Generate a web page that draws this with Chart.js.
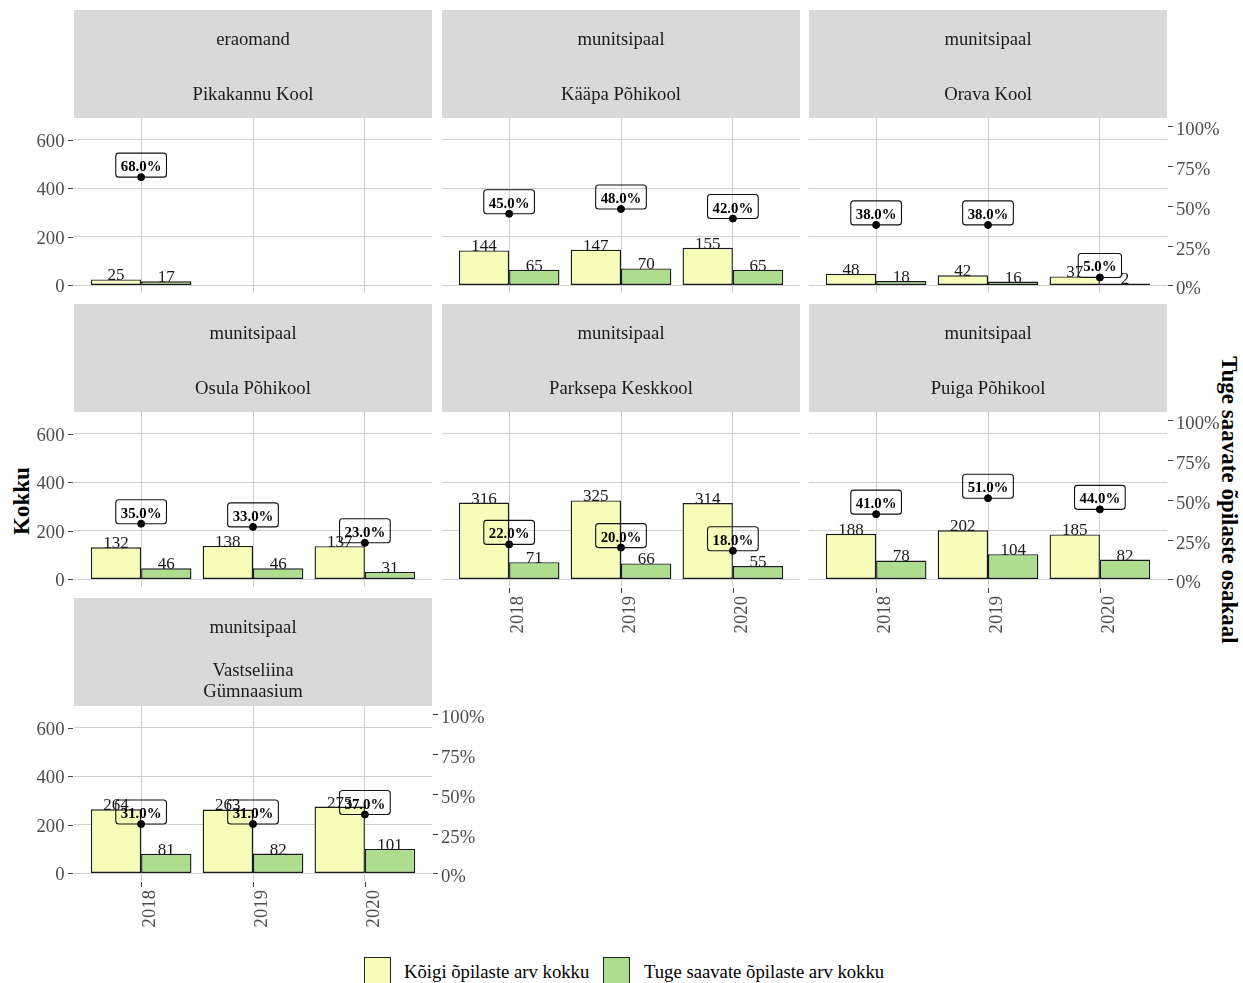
<!DOCTYPE html>
<html>
<head>
<meta charset="utf-8">
<script src="https://cdn.jsdelivr.net/npm/chart.js@4.4.1/dist/chart.umd.min.js"></script>
<style>
html,body{margin:0;padding:0;background:#fff;}
#wrap{position:relative;width:1243px;height:983px;overflow:hidden;font-family:"Liberation Serif","Times New Roman",serif;background:#fff;}
#wrap canvas{position:absolute;left:0;top:0;}
.ttl{position:absolute;font-weight:bold;font-size:23px;color:#000;white-space:nowrap;line-height:26px;}
.leg{position:absolute;font-size:18.7px;color:#000;white-space:nowrap;line-height:22px;}
.key{position:absolute;width:27px;height:30px;border:1px solid #222;box-sizing:border-box;}
</style>
</head>
<body>
<div id="wrap">
  <div class="ttl" style="left:22px;top:501px;transform:translate(-50%,-50%) rotate(-90deg);">Kokku</div>
  <div class="ttl" style="left:1229px;top:500px;transform:translate(-50%,-50%) rotate(90deg);">Tuge saavate õpilaste osakaal</div>
  <div class="key" style="left:364px;top:957px;background:#F7FCB9;"></div>
  <div class="leg" id="leg1" style="left:404px;top:961px;"></div>
  <div class="key" style="left:603px;top:957px;background:#ADDD8E;"></div>
  <div class="leg" id="leg2" style="left:644px;top:961px;"></div>
</div>
<script>
// ---------------- data ----------------
const ownership = ['eraomand','munitsipaal','munitsipaal','munitsipaal','munitsipaal','munitsipaal','munitsipaal'];
const schools = ['Pikakannu Kool','Kääpa Põhikool','Orava Kool','Osula Põhikool','Parksepa Keskkool','Puiga Põhikool','Vastseliina Gümnaasium'];
const years = ['2018','2019','2020'];
const seriesNames = ['Kõigi õpilaste arv kokku','Tuge saavate õpilaste arv kokku'];
const totalStudents = [
  [25,null,null],[144,147,155],[48,42,37],[132,138,137],[316,325,314],[188,202,185],[264,263,275]
];
const supportedStudents = [
  [17,null,null],[65,70,65],[18,16,2],[46,46,31],[71,66,55],[78,104,82],[81,82,101]
];
const supportShare = [
  [68,null,null],[45,48,42],[38,38,5],[35,33,23],[22,20,18],[41,51,44],[31,31,37]
];
const yTicks = [0,200,400,600];
const y2Ticks = [0,25,50,75,100];

// ---------------- layout ----------------
const W = 1243, H = 983;
const COLS = [[74,432],[442,800],[809,1167]];
const ROW_TOP = [10,304,598];
const STRIP_H = 108, PANEL_H = 175;
const Y_MIN = -31, Y_MAX = 688.5, SHARE_K = 6.55;
const FONT = '"Liberation Serif","Times New Roman",serif';

document.getElementById('leg1').textContent = seriesNames[0];
document.getElementById('leg2').textContent = seriesNames[1];

function wrapText(s, n){
  if (s.length <= n) return [s];
  const words = s.split(' '); const out = []; let cur = '';
  words.forEach(w => { if (cur && (cur + ' ' + w).length > n) { out.push(cur); cur = w; } else cur = cur ? cur + ' ' + w : w; });
  if (cur) out.push(cur);
  return out;
}

const facetPlugin = {
  id: 'facet',
  beforeDraw(chart){
    const f = chart.$facet, ctx = chart.ctx, a = chart.chartArea;
    ctx.save();
    ctx.fillStyle = '#d9d9d9';
    ctx.fillRect(a.left, f.stripTop, a.right - a.left, STRIP_H);
    ctx.fillStyle = '#1a1a1a';
    ctx.font = '18.7px ' + FONT;
    ctx.textAlign = 'center'; ctx.textBaseline = 'middle';
    const cx = (a.left + a.right) / 2;
    ctx.fillText(f.type, cx, f.stripTop + 30);
    const lines = wrapText(f.name, 20);
    if (lines.length === 1) ctx.fillText(lines[0], cx, f.stripTop + 85.5);
    else lines.forEach((l,k) => ctx.fillText(l, cx, f.stripTop + 73 + k * 21));
    ctx.restore();
  },
  afterDatasetsDraw(chart){
    const f = chart.$facet, ctx = chart.ctx;
    ctx.save();
    // bar value labels
    ctx.fillStyle = '#1a1a1a';
    ctx.font = '17px ' + FONT;
    ctx.textAlign = 'center'; ctx.textBaseline = 'alphabetic';
    [1,2].forEach(di => {
      const meta = chart.getDatasetMeta(di);
      meta.data.forEach((bar, j) => {
        const v = chart.data.datasets[di].data[j].y;
        if (v == null) return;
        ctx.fillText(String(v), bar.x, bar.y + 1);
      });
    });
    // share labels
    const pm = chart.getDatasetMeta(0);
    ctx.font = 'bold 14.8px ' + FONT;
    ctx.strokeStyle = '#111'; ctx.lineWidth = 1.1;
    pm.data.forEach((pt, j) => {
      const v = chart.data.datasets[0].data[j].y;
      if (v == null) return;
      const txt = v.toFixed(1) + '%';
      const w = ctx.measureText(txt).width + 10, h = 24;
      const x0 = pt.x - w/2, y0 = pt.y - h;
      ctx.beginPath();
      ctx.roundRect(x0, y0, w, h, 3);
      ctx.stroke();
      ctx.fillStyle = '#000';
      ctx.fillText(txt, pt.x, pt.y - 6);
    });
    ctx.restore();
  },
  afterDraw(chart){
    const f = chart.$facet, ctx = chart.ctx, a = chart.chartArea;
    const ys = chart.scales.y, y2 = chart.scales.y2, xs = chart.scales.x;
    ctx.save();
    ctx.strokeStyle = '#444'; ctx.lineWidth = 1;
    ctx.fillStyle = '#4d4d4d';
    ctx.font = '18.7px ' + FONT;
    if (f.left) {
      ctx.textAlign = 'right'; ctx.textBaseline = 'middle';
      yTicks.forEach(v => {
        const py = Math.round(ys.getPixelForValue(v)) + 0.5;
        ctx.beginPath(); ctx.moveTo(a.left - 6, py); ctx.lineTo(a.left - 1, py); ctx.stroke();
        ctx.fillText(String(v), a.left - 9.5, py + 1.5);
      });
    }
    if (f.right) {
      ctx.textAlign = 'left'; ctx.textBaseline = 'middle';
      y2Ticks.forEach(v => {
        const py = Math.round(y2.getPixelForValue(v)) + 0.5;
        ctx.beginPath(); ctx.moveTo(a.right + 1, py); ctx.lineTo(a.right + 6, py); ctx.stroke();
        ctx.fillText(v + '%', a.right + 9, py + 3.5);
      });
    }
    if (f.bottom) {
      years.forEach((yr, j) => {
        const px = Math.round(xs.getPixelForValue(j + 1)) + 0.5;
        ctx.beginPath(); ctx.moveTo(px, a.bottom + 1); ctx.lineTo(px, a.bottom + 6); ctx.stroke();
        ctx.save();
        ctx.translate(px + 8.5, a.bottom + 9);
        ctx.rotate(-Math.PI / 2);
        ctx.textAlign = 'right'; ctx.textBaseline = 'middle';
        ctx.fillText(yr, 0, 0);
        ctx.restore();
      });
    }
    ctx.restore();
  }
};

const wrap = document.getElementById('wrap');
const n = schools.length;
schools.forEach((name, i) => {
  const col = i % 3, row = Math.floor(i / 3);
  const left = COLS[col][0], right = COLS[col][1];
  const stripTop = ROW_TOP[row], top = stripTop + STRIP_H, bottom = top + PANEL_H;
  const canvas = document.createElement('canvas');
  canvas.width = W; canvas.height = H;
  wrap.appendChild(canvas);
  const gridOpts = { color: '#d0d0d0', lineWidth: 1, offset: false, drawTicks: false };
  new Chart(canvas, {
    type: 'bar',
    data: {
      datasets: [
        { type: 'line', label: 'Osakaal', yAxisID: 'y2', order: 0,
          data: years.map((y, j) => ({ x: j + 1, y: supportShare[i][j] })),
          showLine: false, pointRadius: 3.5, pointHoverRadius: 3.5,
          pointBackgroundColor: '#000', pointBorderColor: '#000', borderColor: '#000' },
        { label: seriesNames[0], yAxisID: 'y', order: 1,
          data: years.map((y, j) => ({ x: j + 1, y: totalStudents[i][j] })),
          backgroundColor: '#F7FCB9', borderColor: '#1a1a1a', borderWidth: 1.4, borderSkipped: false,
          categoryPercentage: 0.9, barPercentage: 1 },
        { label: seriesNames[1], yAxisID: 'y', order: 1,
          data: years.map((y, j) => ({ x: j + 1, y: supportedStudents[i][j] })),
          backgroundColor: '#ADDD8E', borderColor: '#1a1a1a', borderWidth: 1.4, borderSkipped: false,
          categoryPercentage: 0.9, barPercentage: 1, minBarLength: 2 }
      ]
    },
    options: {
      responsive: false, animation: false, events: [],
      layout: { padding: { left: left, top: top, right: W - right, bottom: H - bottom } },
      plugins: { legend: { display: false }, tooltip: { enabled: false }, title: { display: false } },
      scales: {
        x: { type: 'linear', min: 0.4, max: 3.6, offset: false,
             afterBuildTicks: s => { s.ticks = years.map((y, j) => ({ value: j + 1 })); },
             grid: gridOpts, border: { display: false }, ticks: { display: false } },
        y: { type: 'linear', position: 'left', min: Y_MIN, max: Y_MAX,
             afterBuildTicks: s => { s.ticks = yTicks.map(v => ({ value: v })); },
             grid: gridOpts, border: { display: false }, ticks: { display: false } },
        y2: { type: 'linear', position: 'right', min: Y_MIN / SHARE_K, max: Y_MAX / SHARE_K,
              grid: { display: false, drawTicks: false }, border: { display: false }, ticks: { display: false } }
      }
    },
    plugins: [{ id: 'facetInit', beforeInit(c) { c.$facet = {
      type: ownership[i], name: name, stripTop: stripTop,
      left: col === 0, right: col === 2 || i === n - 1, bottom: i + 3 >= n } } }, facetPlugin]
  });
});
</script>
</body>
</html>
